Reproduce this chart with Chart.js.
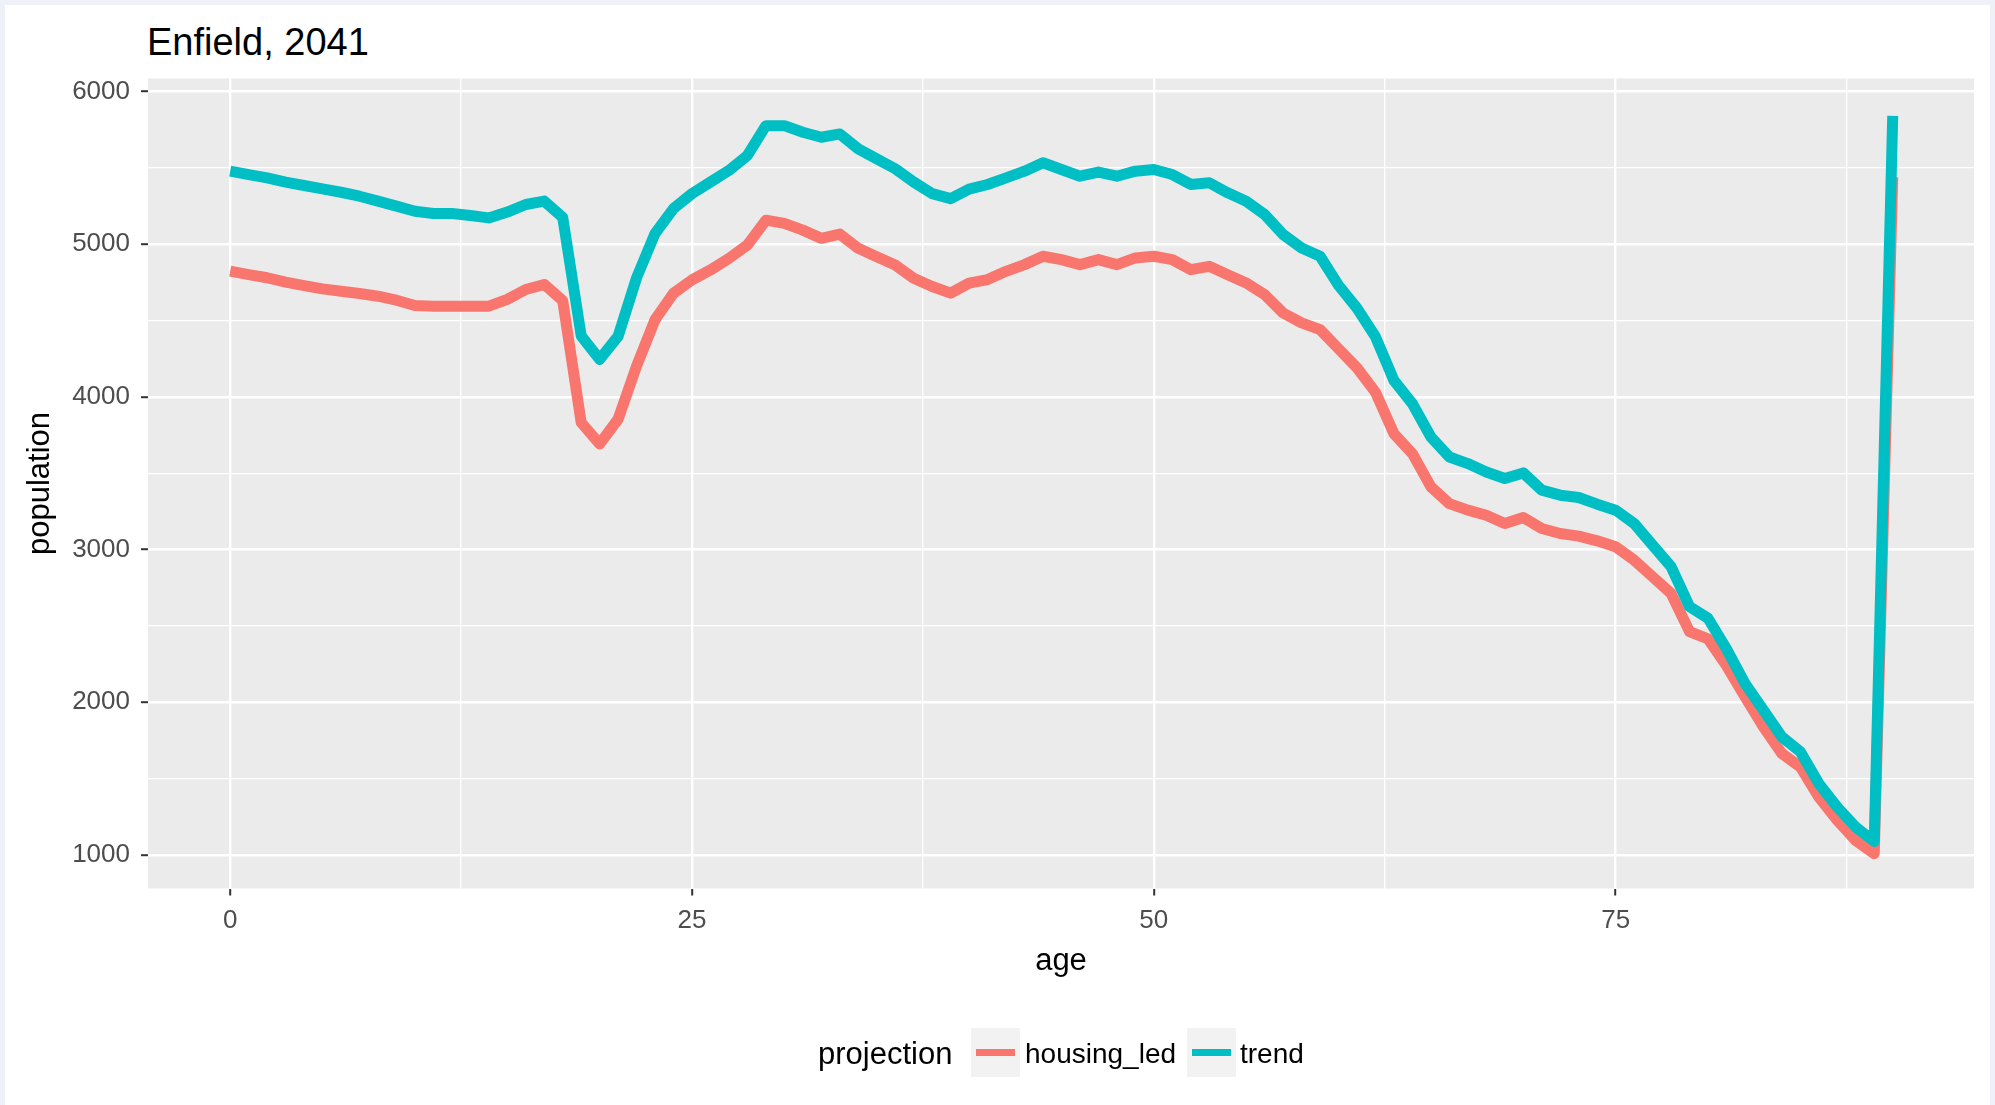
<!DOCTYPE html>
<html lang="en">
<head>
  <meta charset="UTF-8">
  <title>Enfield, 2041</title>
  <script src="https://cdn.jsdelivr.net/npm/chart.js"></script>
  <style>
    html, body {
      margin: 0;
      padding: 0;
    }
    body {
      width: 1995px;
      height: 1105px;
      position: relative;
      overflow: hidden;
      background: #eef1f7;
      font-family: "Liberation Sans", Arial, sans-serif;
    }
    #sheet {
      position: absolute;
      left: 5px;
      top: 5px;
      width: 1985px;
      height: 1100px;
      background: #ffffff;
    }
    #chart-box {
      position: absolute;
      left: 0;
      top: 0;
      width: 1995px;
      height: 1105px;
    }
    #title {
      position: absolute;
      left: 147px;
      top: 23px;
      font-size: 38px;
      line-height: 38px;
      color: #000;
      white-space: nowrap;
    }
    .leg-text {
      position: absolute;
      white-space: nowrap;
      color: #000;
    }
    .leg-key {
      position: absolute;
      width: 49px;
      height: 49px;
      background: #f2f2f2;
    }
    .leg-key span {
      position: absolute;
      left: 5px;
      top: 21px;
      width: 39px;
      height: 7px;
    }
  </style>
</head>
<body>
  <div id="sheet"></div>
  <div id="title">Enfield, 2041</div>
  <div id="chart-box"><canvas id="popChart"></canvas></div>

  <!-- legend, ggplot style: title and keys on one row -->
  <div class="leg-text" style="left:818px; top:1038px; font-size:31px; line-height:31px;">projection</div>
  <div class="leg-key" style="left:971px; top:1028px;"><span style="background:#F8766D"></span></div>
  <div class="leg-text" style="left:1025px; top:1040px; font-size:28px; line-height:28px;">housing_led</div>
  <div class="leg-key" style="left:1187px; top:1028px;"><span style="background:#00BFC4"></span></div>
  <div class="leg-text" style="left:1240px; top:1040px; font-size:28px; line-height:28px;">trend</div>

  <script>
    // single year of age, 90 = 90+
    const ages = [
      0, 1, 2, 3, 4, 5, 6, 7, 8, 9,
      10, 11, 12, 13, 14, 15, 16, 17, 18, 19,
      20, 21, 22, 23, 24, 25, 26, 27, 28, 29,
      30, 31, 32, 33, 34, 35, 36, 37, 38, 39,
      40, 41, 42, 43, 44, 45, 46, 47, 48, 49,
      50, 51, 52, 53, 54, 55, 56, 57, 58, 59,
      60, 61, 62, 63, 64, 65, 66, 67, 68, 69,
      70, 71, 72, 73, 74, 75, 76, 77, 78, 79,
      80, 81, 82, 83, 84, 85, 86, 87, 88, 89,
      90
    ];

    const housingLed = [
      4823, 4801, 4780, 4751, 4729, 4707, 4692, 4677, 4659, 4633,
      4598, 4594, 4594, 4594, 4594, 4638, 4703, 4736, 4630, 3832,
      3691, 3854, 4202, 4506, 4679, 4766, 4831, 4907, 4994, 5157,
      5136, 5092, 5038, 5066, 4973, 4918, 4864, 4777, 4723, 4679,
      4745, 4768, 4822, 4866, 4921, 4899, 4866, 4899, 4866, 4910,
      4921, 4899, 4833, 4855, 4800, 4746, 4669, 4549, 4484, 4440,
      4315, 4190, 4030, 3759, 3628, 3410, 3301, 3258, 3225, 3171,
      3210, 3138, 3105, 3088, 3057, 3018, 2931, 2822, 2713, 2463,
      2415, 2240, 2036, 1839, 1664, 1576, 1379, 1226, 1094, 1008,
      5440
    ];

    const trend = [
      5478, 5456, 5434, 5406, 5384, 5362, 5340, 5314, 5282, 5249,
      5216, 5201, 5201, 5188, 5172, 5210, 5260, 5282, 5175, 4400,
      4245, 4397, 4780, 5070, 5233, 5331, 5407, 5483, 5581, 5776,
      5776, 5733, 5700, 5722, 5624, 5559, 5494, 5407, 5331, 5298,
      5360, 5391, 5434, 5478, 5533, 5489, 5445, 5472, 5445, 5478,
      5489, 5456, 5391, 5402, 5336, 5281, 5194, 5063, 4975, 4921,
      4730, 4580, 4393, 4107, 3955, 3737, 3606, 3563, 3508, 3465,
      3502, 3389, 3356, 3341, 3297, 3258, 3171, 3029, 2888, 2626,
      2550, 2350, 2124, 1949, 1773, 1675, 1467, 1313, 1182, 1088,
      5840
    ];

    // axis breaks (major get labels, minor only gridlines)
    const xMajor = [0, 25, 50, 75];
    const xGrid = [0, 12.5, 25, 37.5, 50, 62.5, 75, 87.5];
    const yMajor = [1000, 2000, 3000, 4000, 5000, 6000];
    const yGrid = [1000, 1500, 2000, 2500, 3000, 3500, 4000, 4500, 5000, 5500, 6000];

    const FONT = '"Liberation Sans", Arial, sans-serif';
    Chart.defaults.font.family = FONT;

    // grey panel behind the grid
    const panelBg = {
      id: 'panelBg',
      beforeDraw(chart) {
        const a = chart.chartArea;
        const ctx = chart.ctx;
        ctx.save();
        ctx.fillStyle = '#EBEBEB';
        ctx.fillRect(a.left, a.top, a.right - a.left, a.bottom - a.top);
        ctx.restore();
      }
    };

    const toPoints = (vals) => ages.map((a, i) => ({ x: a, y: vals[i] }));

    const gridFor = (major) => ({
      color: '#ffffff',
      lineWidth: (c) => (c.tick && major.includes(c.tick.value)) ? 2.4 : 1.3,
      tickColor: (c) => (c.tick && major.includes(c.tick.value)) ? '#333333' : 'rgba(0,0,0,0)',
      tickLength: 7,
      tickWidth: 2,
      drawTicks: true
    });

    new Chart(document.getElementById('popChart'), {
      type: 'line',
      data: {
        datasets: [
          {
            label: 'trend',
            data: toPoints(trend),
            borderColor: '#00BFC4',
            order: 0
          },
          {
            label: 'housing_led',
            data: toPoints(housingLed),
            borderColor: '#F8766D',
            order: 1
          }
        ]
      },
      options: {
        responsive: true,
        maintainAspectRatio: false,
        devicePixelRatio: 1,
        animation: false,
        layout: {
          padding: { left: 0, top: 78.5, right: 21, bottom: 120.5 }
        },
        elements: {
          line: {
            borderWidth: 11,
            tension: 0,
            borderJoinStyle: 'round',
            borderCapStyle: 'butt',
            fill: false
          },
          point: { radius: 0, hoverRadius: 0 }
        },
        plugins: {
          legend: { display: false },
          title: { display: false },
          tooltip: { enabled: false }
        },
        scales: {
          x: {
            type: 'linear',
            min: -4.45,
            max: 94.4,
            afterBuildTicks: (s) => { s.ticks = xGrid.map(v => ({ value: v })); },
            afterFit: (s) => { s.height = 96; },
            ticks: {
              autoSkip: false,
              maxRotation: 0,
              padding: 10,
              color: '#4d4d4d',
              font: { size: 26 },
              callback: (v) => xMajor.includes(v) ? String(v) : ''
            },
            grid: gridFor(xMajor),
            border: { display: false },
            title: {
              display: true,
              text: 'age',
              color: '#000',
              font: { size: 31 },
              padding: { top: 0, bottom: 4 }
            }
          },
          y: {
            type: 'linear',
            min: 780,
            max: 6085,
            afterBuildTicks: (s) => { s.ticks = yGrid.map(v => ({ value: v })); },
            afterFit: (s) => { s.width = 148; },
            ticks: {
              autoSkip: false,
              padding: 11,
              color: '#4d4d4d',
              font: { size: 26 },
              callback: (v) => yMajor.includes(v) ? String(v) : ''
            },
            grid: gridFor(yMajor),
            border: { display: false },
            title: {
              display: true,
              text: 'population',
              color: '#000',
              font: { size: 31 },
              padding: { top: 22, bottom: 0 }
            }
          }
        }
      },
      plugins: [panelBg]
    });
  </script>
</body>
</html>
